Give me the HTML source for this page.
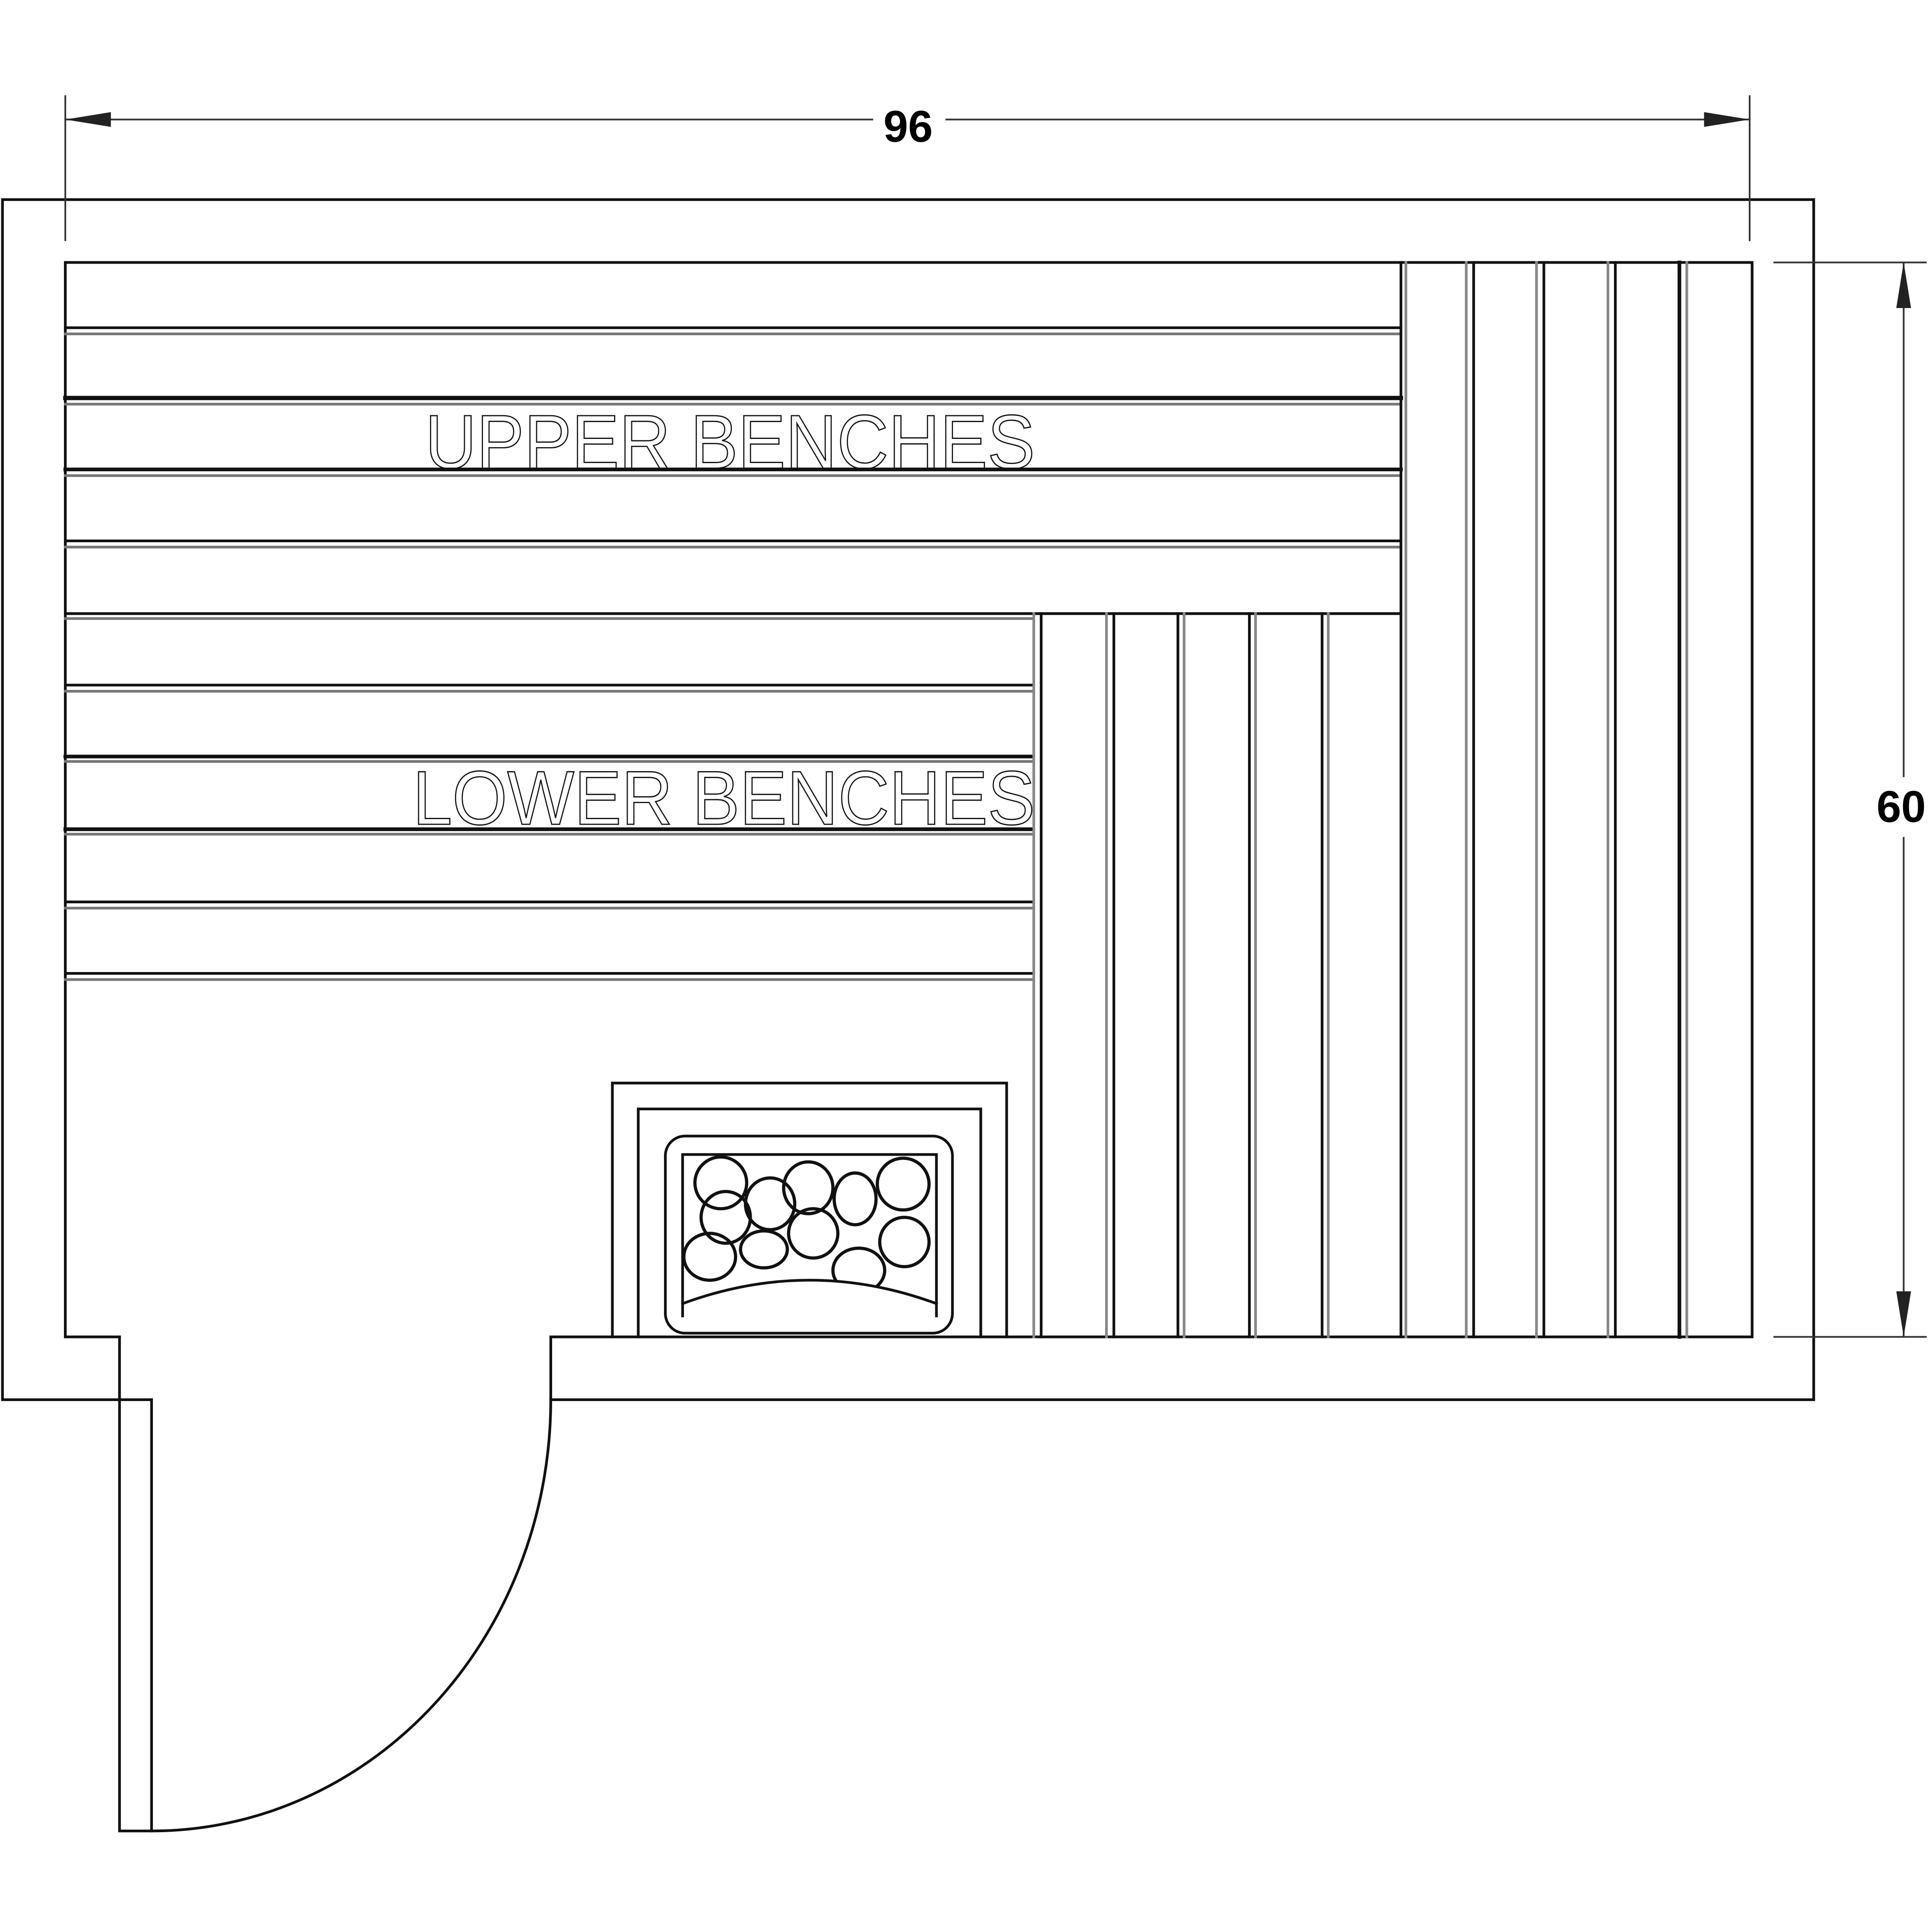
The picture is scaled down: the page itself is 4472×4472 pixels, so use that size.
<!DOCTYPE html>
<html><head><meta charset="utf-8"><style>html,body{margin:0;padding:0;background:#fff}svg{display:block}</style></head>
<body>
<svg width="4472" height="4472" viewBox="0 0 1568 1568" xmlns="http://www.w3.org/2000/svg">
<defs><clipPath id="stones"><path d="M554,938 L760,938 L760,1058 Q657,1020 554,1058 Z"/></clipPath></defs>
<g fill="none" stroke="#111" stroke-width="2.2" stroke-linecap="square">
<polyline points="123,1136 2,1136 2,162 1472,162 1472,1136 447,1136"/>
<polyline points="97,1085 53,1085 53,213 1422,213 1422,1085 447,1085 447,1136"/>
<polyline points="97,1085 97,1486 123,1486 123,1136"/>
<path d="M447,1136 A324,350 0 0 1 123,1486"/>
<g>
<line x1="53" y1="266" x2="1137" y2="266"/><line x1="53" y1="271" x2="1137" y2="271" stroke="#777"/>
<line x1="53" y1="323" x2="1137" y2="323" stroke-width="3.5"/><line x1="53" y1="328" x2="1137" y2="328" stroke="#777"/>
<line x1="53" y1="381" x2="1137" y2="381" stroke-width="3"/><line x1="53" y1="386" x2="1137" y2="386" stroke="#777"/>
<line x1="53" y1="439" x2="1137" y2="439"/><line x1="53" y1="444" x2="1137" y2="444" stroke="#777"/>
<line x1="53" y1="498" x2="1137" y2="498"/><line x1="53" y1="502" x2="838" y2="502" stroke="#777"/>
</g>
<line x1="1137" y1="213" x2="1137" y2="1085"/><line x1="1141" y1="213" x2="1141" y2="1085" stroke="#888"/>
<line x1="1190" y1="213" x2="1190" y2="1085" stroke="#888"/><line x1="1196" y1="213" x2="1196" y2="1085"/>
<line x1="1247" y1="213" x2="1247" y2="1085" stroke="#888"/><line x1="1253" y1="213" x2="1253" y2="1085"/>
<line x1="1305" y1="213" x2="1305" y2="1085" stroke="#888"/><line x1="1311" y1="213" x2="1311" y2="1085"/>
<line x1="1363" y1="213" x2="1363" y2="1085" stroke-width="3"/><line x1="1369" y1="213" x2="1369" y2="1085" stroke="#888"/>
<line x1="53" y1="556" x2="838" y2="556"/><line x1="53" y1="561" x2="838" y2="561" stroke="#777"/>
<line x1="53" y1="614" x2="838" y2="614" stroke-width="3"/><line x1="53" y1="618" x2="838" y2="618" stroke="#777"/>
<line x1="53" y1="673" x2="838" y2="673" stroke-width="3"/><line x1="53" y1="677" x2="838" y2="677" stroke="#777"/>
<line x1="53" y1="732" x2="838" y2="732"/><line x1="53" y1="737" x2="838" y2="737" stroke="#777"/>
<line x1="53" y1="790" x2="838" y2="790"/><line x1="53" y1="795" x2="838" y2="795" stroke="#777"/>
<line x1="839" y1="498" x2="839" y2="1085" stroke="#888"/><line x1="845" y1="498" x2="845" y2="1085"/>
<line x1="898" y1="498" x2="898" y2="1085" stroke="#888"/><line x1="904" y1="498" x2="904" y2="1085"/>
<line x1="956" y1="498" x2="956" y2="1085"/><line x1="961" y1="498" x2="961" y2="1085" stroke="#888"/>
<line x1="1014" y1="498" x2="1014" y2="1085"/><line x1="1019" y1="498" x2="1019" y2="1085" stroke="#888"/>
<line x1="1073" y1="498" x2="1073" y2="1085"/><line x1="1078" y1="498" x2="1078" y2="1085" stroke="#888"/>
<polyline points="497,1085 497,879 817,879 817,1085"/>
<polyline points="518,1085 518,900 796,900 796,1085"/>
<rect x="540" y="922" width="233" height="160" rx="16"/>
<path d="M554,1068 L554,937 L760,937 L760,1068"/>
<path d="M554,1058 Q657,1020 760,1058"/>
<g stroke-width="2.6" clip-path="url(#stones)">
<ellipse cx="585" cy="960" rx="21" ry="21"/><ellipse cx="625" cy="977" rx="20" ry="21"/>
<ellipse cx="656" cy="964" rx="20" ry="21"/><ellipse cx="694" cy="973" rx="17" ry="21"/>
<ellipse cx="733" cy="961" rx="21" ry="21"/><ellipse cx="589" cy="988" rx="20" ry="21"/>
<ellipse cx="660" cy="1001" rx="20" ry="20"/><ellipse cx="734" cy="1008" rx="20" ry="20"/>
<ellipse cx="576" cy="1020" rx="21" ry="19"/><ellipse cx="620" cy="1014" rx="19" ry="15"/>
<ellipse cx="697" cy="1031" rx="21" ry="18"/>
</g>
<g stroke-width="1.4" stroke="#333">
<line x1="53" y1="78" x2="53" y2="195"/><line x1="1420" y1="78" x2="1420" y2="195"/>
<line x1="53" y1="97" x2="708" y2="97"/><line x1="768" y1="97" x2="1420" y2="97"/>
<line x1="1440" y1="213" x2="1563" y2="213"/><line x1="1440" y1="1085" x2="1563" y2="1085"/>
<line x1="1545" y1="213" x2="1545" y2="630"/><line x1="1545" y1="680" x2="1545" y2="1085"/>
</g>
</g>
<g fill="#222">
<polygon points="53,97 90,91 90,103"/><polygon points="1420,97 1383,91 1383,103"/>
<polygon points="1545,213 1539,250 1551,250"/><polygon points="1545,1085 1539,1048 1551,1048"/>
</g>
<g font-family="Liberation Sans, sans-serif">
<text x="737" y="115" font-size="36" font-weight="bold" text-anchor="middle">96</text>
<text x="1543" y="667" font-size="36" font-weight="bold" text-anchor="middle">60</text>
<text x="345" y="380" font-size="62" textLength="495" lengthAdjust="spacingAndGlyphs" fill="none" stroke="#111" stroke-width="1.0">UPPER  BENCHES</text>
<text x="335" y="669" font-size="62" textLength="505" lengthAdjust="spacingAndGlyphs" fill="none" stroke="#111" stroke-width="1.0">LOWER  BENCHES</text>
</g>
</svg>
</body></html>
